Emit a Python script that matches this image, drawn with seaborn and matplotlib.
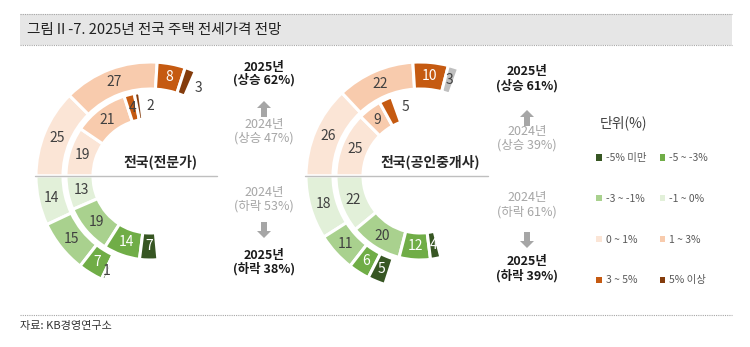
import matplotlib
matplotlib.use("Agg")
import matplotlib.pyplot as plt
from matplotlib.patches import Patch, Rectangle
import numpy as np
import seaborn as sns

# ---------------- data ----------------
bins = ["-5% 미만", "-5 ~ -3%", "-3 ~ -1%", "-1 ~ 0%", "0 ~ 1%", "1 ~ 3%", "3 ~ 5%", "5% 이상"]
bin_colors = ["#375623", "#70ad47", "#a9d18e", "#e2f0d9", "#fbe5d6", "#f8cbad", "#c55a11", "#843c0c"]

# 전문가 (experts)
exp_up_2025 = [25, 27, 8, 3]
exp_up_2024 = [19, 21, 4, 2]
exp_down_2024 = [13, 19, 14, 7]
exp_down_2025 = [14, 15, 7, 1]

# 공인중개사 (brokers)
brk_up_2025 = [26, 22, 10, 3]
brk_up_2024 = [25, 9, 5]
brk_down_2024 = [22, 20, 12, 4]
brk_down_2025 = [18, 11, 6, 5]

exp_summary = [("2025년", "(상승 62%)"), ("2024년", "(상승 47%)"),
               ("2024년", "(하락 53%)"), ("2025년", "(하락 38%)")]
brk_summary = [("2025년", "(상승 61%)"), ("2024년", "(상승 39%)"),
               ("2024년", "(하락 61%)"), ("2025년", "(하락 39%)")]

title = "그림Ⅱ-7. 2025년 전국 주택 전세가격 전망"
source = "자료: KB경영연구소"
unit_label = "단위(%)"

# ---------------- style ----------------
sns.set_theme(style="white")
FONT = ["Noto Sans CJK KR", "DejaVu Sans"]
plt.rcParams["font.family"] = FONT

W, H = 750, 347
fig = plt.figure(figsize=(7.5, 3.47), dpi=100)
ax = fig.add_axes([0, 0, 1, 1])

def Y(y):
    return H - y

TOTAL = 200          # 100% == half circle
RING_W = 27
DARK = {"#375623", "#70ad47", "#c55a11", "#843c0c"}
TXT = "#404040"

up_cols = [bin_colors[4], bin_colors[5], bin_colors[6], bin_colors[7]]
down_cols = [bin_colors[3], bin_colors[2], bin_colors[1], bin_colors[0]]


def ring(vals, cols, center, radius, up, last_out=False):
    rest = TOTAL - sum(vals)
    wedges, _ = ax.pie(vals + [rest], colors=cols[:len(vals)] + ["none"],
                       radius=radius, center=center, startangle=180,
                       counterclock=not up, frame=True,
                       wedgeprops=dict(width=RING_W, edgecolor="white", linewidth=2.2))
    wedges[-1].set_visible(False)
    rm = radius - RING_W / 2
    n = len(vals)
    for i, (w, v) in enumerate(zip(wedges[:-1], vals)):
        if last_out and i == n - 1:
            d = np.degrees(9.5 / rm)
            ang = (w.theta1 - d) if up else (w.theta2 + d)
            col = TXT
            r = rm
        else:
            ang = (w.theta1 + w.theta2) / 2
            small = v <= 2 or (up and v <= 4)
            col = TXT if (small or cols[i] not in DARK) else "white"
            r = rm + (4 if v <= 2 else 0)
        a = np.radians(ang)
        ax.text(center[0] + r * np.cos(a), center[1] + r * np.sin(a), str(v),
                ha="center", va="center", fontsize=10, color=col, zorder=6)


def donut(cx, cy, up25, up24, dn24, dn25, up25_cols, name, line_x, out25):
    c = (cx, Y(cy))
    ring(up25, up25_cols, c, 114, True, last_out=out25)
    ring(up24, up_cols, c, 84, True, last_out=True)
    ring(dn24, down_cols, c, 84, False)
    ring(dn25, down_cols, c, 114, False)
    ax.plot(line_x, [Y(cy), Y(cy)], color="#bfbfbf", lw=1.0, zorder=5)
    ax.text(cx + 10, Y(cy - 14), name,
            ha="center", va="center", fontsize=10, fontweight="bold", color="#262626")


donut(150, 176, exp_up_2025, exp_up_2024, exp_down_2024, exp_down_2025,
      up_cols, "전국(전문가)", [35, 217], True)
donut(420, 176, brk_up_2025, brk_up_2024, brk_down_2024, brk_down_2025,
      up_cols[:3] + ["#bfbfbf"], "전국(공인중개사)", [305, 488], False)


def summary(x, texts, ys, arrows):
    styles = [("bold", "#1a1a1a"), ("normal", "#a6a6a6"),
              ("normal", "#a6a6a6"), ("bold", "#1a1a1a")]
    for (l1, l2), (y1, y2), (wt, col) in zip(texts, ys, styles):
        ax.text(x, Y(y1), l1, ha="center", va="center", fontsize=9, fontweight=wt, color=col)
        ax.text(x, Y(y2), l2, ha="center", va="center", fontsize=9, fontweight=wt, color=col)
    for (ya, yb) in arrows:
        ax.arrow(x, Y(ya), 0, Y(yb) - Y(ya), width=6, head_width=14, head_length=7,
                 length_includes_head=True, color="#a6a6a6", lw=0)


summary(264, exp_summary, [(67, 80), (124, 138), (192, 206), (255, 269)],
        [(117, 101), (222, 238)])
summary(527, brk_summary, [(71, 86), (131, 145), (197, 212), (261, 276)],
        [(126, 110), (232, 248)])

# ---------------- title bar & footer ----------------
ax.add_patch(Rectangle((20, Y(45)), 712, 31, facecolor="#e6e6e6", edgecolor="none", zorder=0))
ax.plot([20, 732], [Y(14), Y(14)], color="#a6a6a6", lw=0.8, ls=(0, (1, 1)))
ax.plot([20, 732], [Y(45), Y(45)], color="#a6a6a6", lw=0.8, ls=(0, (1, 1)))
ax.text(27, Y(30), title, ha="left", va="center", fontsize=10.5, color="#222222")

ax.plot([20, 732], [Y(315), Y(315)], color="#a6a6a6", lw=0.8, ls=(0, (1, 1)))
ax.text(20, Y(326), source, ha="left", va="center", fontsize=8, color="#333333")

# ---------------- legend ----------------
ax.text(600, Y(123), unit_label, ha="left", va="center", fontsize=10, color="#404040")
handles = [Patch(facecolor=c, edgecolor="none", label=b) for b, c in zip(bins, bin_colors)]
order = [0, 2, 4, 6, 1, 3, 5, 7]
leg = fig.legend([handles[i] for i in order], [bins[i] for i in order], ncol=2,
                 loc="upper left", bbox_to_anchor=(592 / W, 1 - 149 / H),
                 frameon=False, fontsize=7.5, labelspacing=2.95,
                 handlelength=0.55, handleheight=0.55, handletextpad=0.35,
                 columnspacing=1.3, borderaxespad=0)
for t in leg.get_texts():
    t.set_color("#595959")

ax.set_xlim(0, W)
ax.set_ylim(0, H)
ax.set_aspect("equal")
ax.axis("off")
fig.savefig("out.png", dpi=100)
